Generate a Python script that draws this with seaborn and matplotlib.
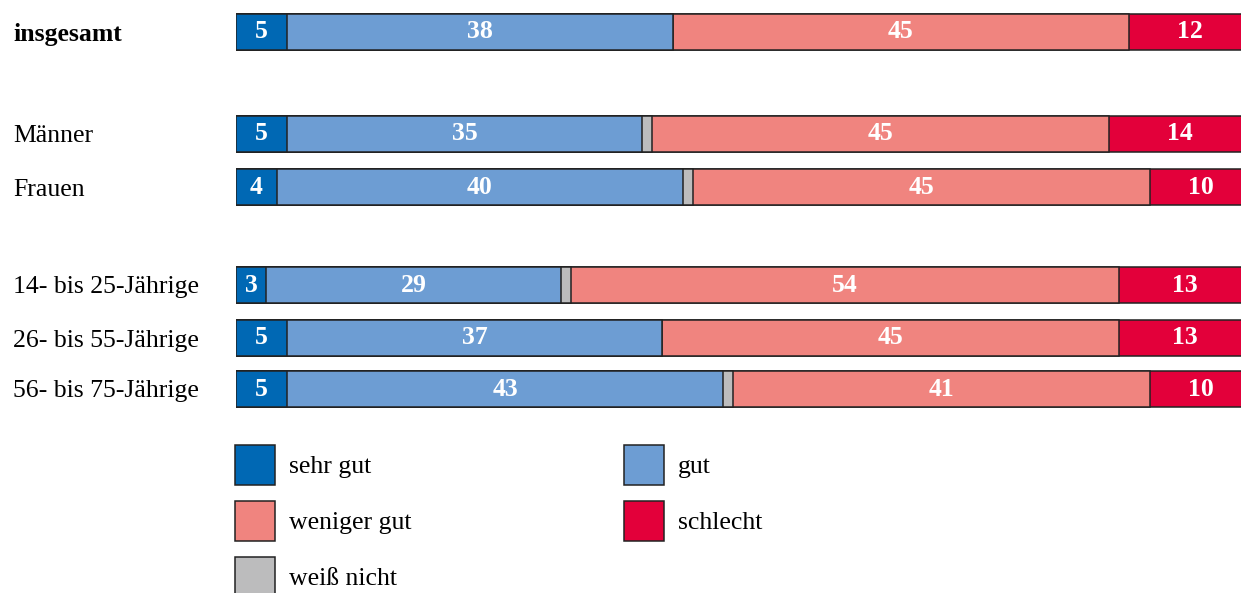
import matplotlib
matplotlib.use("Agg")
import matplotlib.pyplot as plt
from matplotlib.patches import Patch
import numpy as np
import pandas as pd
import seaborn as sns

# Daten
gruppen = ["insgesamt", "Männer", "Frauen",
           "14- bis 25-Jährige", "26- bis 55-Jährige", "56- bis 75-Jährige"]
kategorien = ["sehr gut", "gut", "weiß nicht", "weniger gut", "schlecht"]
sehr_gut = [5, 5, 4, 3, 5, 5]
gut = [38, 35, 40, 29, 37, 43]
weiss_nicht = [0, 1, 1, 1, 0, 1]
weniger_gut = [45, 45, 45, 54, 45, 41]
schlecht = [12, 14, 10, 13, 13, 10]

farben = {
    "sehr gut": "#0068b4",
    "gut": "#6d9dd3",
    "weiß nicht": "#bcbcbd",
    "weniger gut": "#f0847f",
    "schlecht": "#e3003a",
}

# Layout (Pixel)
W, H = 1241, 593
zeilen_y = [32, 134, 187, 285, 338, 389]
balken_h = 36

sns.set_theme(style="white")
plt.rcParams["font.family"] = ["Liberation Serif", "DejaVu Serif"]
plt.rcParams["text.color"] = "black"
fs = 18.5

df = pd.DataFrame({"gruppe": gruppen, "y": zeilen_y,
                   "sehr gut": sehr_gut, "gut": gut, "weiß nicht": weiss_nicht,
                   "weniger gut": weniger_gut, "schlecht": schlecht})
cum = df[kategorien].cumsum(axis=1)

fig = plt.figure(figsize=(W / 100, H / 100), dpi=100)
ax = fig.add_axes([236 / W, 0, 1 - 236 / W, 1])

breite = balken_h / np.diff(zeilen_y).min()
for kat in reversed(kategorien):
    sns.barplot(x=cum[kat], y=df["y"], orient="y", native_scale=True,
                color=farben[kat], saturation=1, width=breite,
                edgecolor="#222222", linewidth=1.1, ax=ax)

# Werte in den Balken
for i, row in df.iterrows():
    start = 0
    for kat in kategorien:
        v = row[kat]
        if kat != "weiß nicht" and v > 0:
            ax.text(start + v / 2, row["y"], str(v), ha="center", va="center",
                    color="white", fontsize=fs, fontweight="bold")
        start += v

ax.set_xlim(0, 99)
ax.set_ylim(H, 0)
ax.set_xlabel("")
ax.set_ylabel("")
ax.set_xticks([])
ax.set_yticks(zeilen_y, gruppen)
ax.tick_params(axis="y", length=0, pad=(236 - 13) * 0.72, labelsize=fs,
               labelcolor="black")
for lab in ax.get_yticklabels():
    lab.set_horizontalalignment("left")
ax.get_yticklabels()[0].set_fontweight("bold")
for s in ax.spines.values():
    s.set_visible(False)

# Legende
reihenfolge = ["sehr gut", "weniger gut", "weiß nicht", "gut", "schlecht"]
handles = [Patch(facecolor=farben[k], edgecolor="#222222", linewidth=1.1, label=k)
           for k in reihenfolge]
fs_px = fs / 72 * 100
quadrat = 40
fig.legend(handles=handles, loc="upper left", ncol=2, frameon=False,
           bbox_to_anchor=(235 / W, 1 - 445 / H), fontsize=fs,
           labelcolor="black",
           handlelength=quadrat / fs_px,
           handleheight=(quadrat / fs_px - 0.245) / 0.65,
           handletextpad=0.55, labelspacing=0.62, columnspacing=8.25,
           borderpad=0, borderaxespad=0)

fig.savefig("out.png", dpi=100)
